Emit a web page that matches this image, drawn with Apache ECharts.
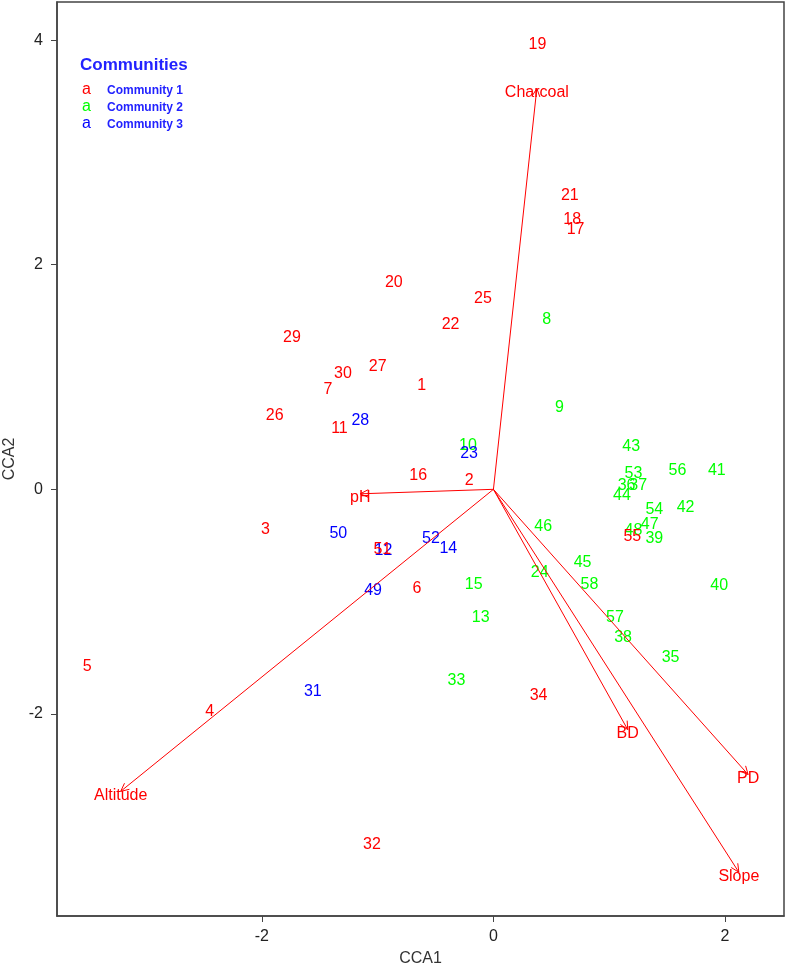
<!DOCTYPE html>
<html>
<head>
<meta charset="utf-8">
<title>CCA biplot</title>
<script src="https://cdn.jsdelivr.net/npm/echarts@6/dist/echarts.min.js"></script>
<style>
  html, body { margin: 0; padding: 0; background: #fff; }
  #chart { width: 786px; height: 971px; }
</style>
</head>
<body>
<div id="chart"></div>
<script>
// site scores (CCA1, CCA2), in site order
var siteIds = [
  '1', '2', '3', '4', '5', '6', '7', '8', '9', '10',
  '11', '12', '13', '14', '15', '16', '17', '18', '19', '20',
  '21', '22', '23', '24', '25', '26', '27', '28', '29', '30',
  '31', '32', '33', '34', '35', '36', '37', '38', '39', '40',
  '41', '42', '43', '44', '45', '46', '47', '48', '49', '50',
  '51', '52', '53', '54', '55', '56', '57', '58'
];
var siteCCA1 = [
  -0.62, -0.21, -1.97, -2.45, -3.51, -0.66, -1.43, 0.46, 0.57, -0.22,
  -1.33, -0.95, -0.11, -0.39, -0.17, -0.65, 0.71, 0.68, 0.38, -0.86,
  0.66, -0.37, -0.21, 0.40, -0.09, -1.89, -1.00, -1.15, -1.74, -1.30,
  -1.56, -1.05, -0.32, 0.39, 1.53, 1.15, 1.25, 1.12, 1.39, 1.95,
  1.93, 1.66, 1.19, 1.11, 0.77, 0.43, 1.35, 1.21, -1.04, -1.34,
  -0.96, -0.54, 1.21, 1.39, 1.20, 1.59, 1.05, 0.83
];
var siteCCA2 = [
  0.92, 0.08, -0.36, -1.98, -1.58, -0.88, 0.89, 1.51, 0.73, 0.39,
  0.54, -0.55, -1.14, -0.53, -0.85, 0.12, 2.31, 2.40, 3.96, 1.84,
  2.62, 1.47, 0.32, -0.74, 1.70, 0.66, 1.09, 0.61, 1.35, 1.03,
  -1.80, -3.16, -1.70, -1.84, -1.50, 0.03, 0.03, -1.32, -0.44, -0.86,
  0.17, -0.16, 0.38, -0.06, -0.65, -0.33, -0.31, -0.37, -0.90, -0.39,
  -0.54, -0.44, 0.14, -0.18, -0.42, 0.17, -1.14, -0.85
];
var siteCommunity = [
  1, 1, 1, 1, 1, 1, 1, 2, 2, 2,
  1, 3, 2, 3, 2, 1, 1, 1, 1, 1,
  1, 1, 3, 2, 1, 1, 1, 3, 1, 1,
  3, 1, 2, 1, 2, 2, 2, 2, 2, 2,
  2, 2, 2, 2, 2, 2, 2, 2, 3, 3,
  1, 3, 2, 2, 1, 2, 2, 2
];

// environmental vectors (biplot arrows)
var envNames = ['Charcoal', 'pH', 'Altitude', 'BD', 'PD', 'Slope'];
var envCCA1 = [0.375, -1.15, -3.22, 1.16, 2.20, 2.12];
var envCCA2 = [3.57, -0.04, -2.69, -2.14, -2.54, -3.41];

var communityNames = ['Community 1', 'Community 2', 'Community 3'];
var communityColors = ['#ff0000', '#00ff00', '#0000ff'];

var xTicks = [-2, 0, 2];
var yTicks = [-2, 0, 2, 4];

var chart = echarts.init(document.getElementById('chart'), null, { renderer: 'canvas' });

var siteData = siteIds.map(function (id, i) {
  return [siteCCA1[i], siteCCA2[i], id, siteCommunity[i]];
});
var envData = envNames.map(function (name, i) {
  return [envCCA1[i], envCCA2[i], name];
});

var fontFamily = '"Liberation Sans", Arial, sans-serif';
var labelFont = '16px ' + fontFamily;

function renderSite(params, api) {
  var p = api.coord([api.value(0), api.value(1)]);
  var comm = api.value(3);
  return {
    type: 'text',
    x: p[0],
    y: p[1],
    style: {
      text: siteIds[params.dataIndex],
      fill: communityColors[comm - 1],
      font: labelFont,
      align: 'center',
      verticalAlign: 'middle'
    }
  };
}

function renderArrow(params, api) {
  var o = api.coord([0, 0]);
  var t = api.coord([api.value(0), api.value(1)]);
  var ang = Math.atan2(t[1] - o[1], t[0] - o[0]);
  var head = 9, spread = Math.PI / 7;
  var h1 = [t[0] - head * Math.cos(ang - spread), t[1] - head * Math.sin(ang - spread)];
  var h2 = [t[0] - head * Math.cos(ang + spread), t[1] - head * Math.sin(ang + spread)];
  var lineStyle = { stroke: '#ff0000', lineWidth: 1, fill: null };
  return {
    type: 'group',
    children: [
      { type: 'line', shape: { x1: o[0], y1: o[1], x2: t[0], y2: t[1] }, style: lineStyle },
      { type: 'polyline', shape: { points: [h1, t, h2] }, style: lineStyle },
      {
        type: 'text',
        x: t[0],
        y: t[1] + 4,
        style: {
          text: envNames[params.dataIndex],
          fill: '#ff0000',
          font: labelFont,
          align: 'center',
          verticalAlign: 'middle'
        }
      }
    ]
  };
}

var axisColor = '#444';
var tickFont = { color: '#222', fontSize: 16, fontFamily: fontFamily };

var option = {
  animation: false,
  backgroundColor: '#fff',
  grid: {
    left: 57, right: 2, top: 2, bottom: 55,
    outerBoundsMode: 'none',
    containLabel: false,
    show: true, borderColor: axisColor, borderWidth: 1.5, backgroundColor: 'transparent'
  },
  xAxis: {
    type: 'value',
    min: -3.77,
    max: 2.51,
    name: 'CCA1',
    nameLocation: 'middle',
    nameGap: 35,
    nameTextStyle: { color: '#333', fontSize: 16, fontFamily: fontFamily },
    splitLine: { show: false },
    axisLine: { show: true, onZero: false, lineStyle: { color: axisColor, width: 1.5 } },
    axisTick: { show: true, length: 6, customValues: xTicks, lineStyle: { color: axisColor } },
    axisLabel: Object.assign({ margin: 13, customValues: xTicks }, tickFont)
  },
  yAxis: {
    type: 'value',
    min: -3.80,
    max: 4.34,
    name: 'CCA2',
    nameLocation: 'middle',
    nameGap: 37,
    nameRotate: 90,
    nameTextStyle: { color: '#333', fontSize: 16, fontFamily: fontFamily },
    splitLine: { show: false },
    axisLine: { show: true, onZero: false, lineStyle: { color: axisColor, width: 1.5 } },
    axisTick: { show: true, length: 6, customValues: yTicks, lineStyle: { color: axisColor } },
    axisLabel: Object.assign({ margin: 14, customValues: yTicks }, tickFont)
  },
  series: [
    {
      name: 'sites',
      type: 'custom',
      renderItem: renderSite,
      data: siteData,
      z: 2
    },
    {
      name: 'environment',
      type: 'custom',
      renderItem: renderArrow,
      data: envData,
      z: 3
    }
  ],
  graphic: [
    {
      type: 'text', left: 80, top: 57,
      style: { text: 'Communities', fill: '#2222ff', font: 'bold 17px ' + fontFamily }
    }
  ].concat(communityNames.map(function (name, i) {
    return {
      type: 'group', left: 82, top: 82 + i * 17,
      children: [
        { type: 'text', x: 0, y: 0, style: { text: 'a', fill: communityColors[i], font: '16px ' + fontFamily } },
        { type: 'text', x: 25, y: 3, style: { text: name, fill: '#2222ff', font: 'bold 12px ' + fontFamily } }
      ]
    };
  }))
};

chart.setOption(option);
</script>
</body>
</html>
